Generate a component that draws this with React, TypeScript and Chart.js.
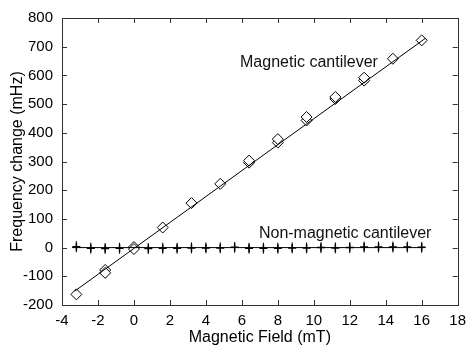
import React, { useEffect, useRef } from "react";
import { Chart, registerables } from "chart.js";
Chart.register(...registerables);

// Magnetic cantilever measurements (mT, mHz)
const magField = [-3.2, -1.6, -1.6, 0, 0, 1.6, 3.2, 4.8, 6.4, 6.4, 8.0, 8.0, 9.6, 9.6, 11.2, 11.2, 12.8, 12.8, 14.4, 16.0];
const magFreq = [-163, -78, -88, 2, -5, 70, 155, 222, 296, 303, 366, 378, 443, 455, 518, 525, 582, 592, 658, 722];

// Non-magnetic cantilever measurements
const nonMagField = [-3.2, -2.4, -1.6, -0.8, 0, 0.8, 1.6, 2.4, 3.2, 4.0, 4.8, 5.6, 6.4, 7.2, 8.0, 8.8, 9.6, 10.4, 11.2, 12.0, 12.8, 13.6, 14.4, 15.2, 16.0];
const nonMagFreq = [3, -2, -3, -2, 0, -3, -2, -2, -1, -1, -1, 1, -2, -2, -2, -1, -1, 0, -1, 0, 2, 2, 2, 2, 1];

// Linear fits (endpoints)
const magFitX = [-3.3, 16.2];
const magFitY = [-152, 729];
const nonMagFitX = [-3.45, 16.2];
const nonMagFitY = [0, 0];

// Annotations
const labelTexts = ["Magnetic cantilever", "Non-magnetic cantilever"];
const labelX = [5.9, 6.95];
const labelY = [644, 49];

const xTicks = [-4, -2, 0, 2, 4, 6, 8, 10, 12, 14, 16, 18];
const yTicks = [-200, -100, 0, 100, 200, 300, 400, 500, 600, 700, 800];

const zip = (xs: number[], ys: number[]) => xs.map((x, i) => ({ x, y: ys[i] }));

export default function App() {
  const ref = useRef<HTMLCanvasElement>(null);
  useEffect(() => {
    document.body.style.margin = "0";
    const font = "'Liberation Sans', Arial, Helvetica, sans-serif";
    const framePlugin = {
      id: "frame",
      afterDraw(chart: any) {
        const { ctx, chartArea: a, scales } = chart;
        ctx.save();
        ctx.strokeStyle = "#333";
        ctx.lineWidth = 1;
        ctx.strokeRect(Math.round(a.left) + 0.5, Math.round(a.top) + 0.5, Math.round(a.right - a.left), Math.round(a.bottom - a.top));
        const L = 5;
        ctx.beginPath();
        for (const v of xTicks) {
          const px = Math.round(scales.x.getPixelForValue(v)) + 0.5;
          ctx.moveTo(px, a.bottom); ctx.lineTo(px, a.bottom - L);
          ctx.moveTo(px, a.top); ctx.lineTo(px, a.top + L);
        }
        for (const v of yTicks) {
          const py = Math.round(scales.y.getPixelForValue(v)) + 0.5;
          ctx.moveTo(a.left, py); ctx.lineTo(a.left + L, py);
          ctx.moveTo(a.right, py); ctx.lineTo(a.right - L, py);
        }
        ctx.stroke();
        ctx.restore();
      },
    };
    const labelPlugin = {
      id: "labels",
      afterDatasetsDraw(chart: any) {
        const { ctx, scales } = chart;
        ctx.save();
        ctx.font = `16px ${font}`;
        ctx.fillStyle = "#111";
        ctx.textBaseline = "middle";
        ctx.textAlign = "left";
        labelTexts.forEach((t, i) => {
          ctx.fillText(t, scales.x.getPixelForValue(labelX[i]), scales.y.getPixelForValue(labelY[i]));
        });
        ctx.restore();
      },
    };
    const chart = new Chart(ref.current!, {
      type: "scatter",
      data: {
        datasets: [
          { data: zip(magFitX, magFitY), showLine: true, borderColor: "#000", borderWidth: 1, pointRadius: 0 },
          { data: zip(nonMagFitX, nonMagFitY), showLine: true, borderColor: "#000", borderWidth: 1, pointRadius: 0 },
          { data: zip(magField, magFreq), pointStyle: "rectRot", pointRadius: 5.5, backgroundColor: "#fff", borderColor: "#000", borderWidth: 1 },
          { data: zip(magField, magFreq), pointStyle: "line", rotation: 90, pointRadius: 4, borderColor: "#000", borderWidth: 1 },
          { data: zip(nonMagField, nonMagFreq), pointStyle: "cross", pointRadius: 4, borderColor: "#000", borderWidth: 1.5 },
          { data: zip(nonMagField, nonMagFreq), pointStyle: "line", rotation: 90, pointRadius: 5.5, borderColor: "#000", borderWidth: 1 },
        ],
      },
      options: {
        animation: false,
        responsive: true,
        maintainAspectRatio: false,
        layout: { padding: { top: 16, right: 10, left: 0, bottom: 0 } },
        plugins: { legend: { display: false }, tooltip: { enabled: false } },
        scales: {
          x: {
            type: "linear",
            min: -4,
            max: 18,
            afterBuildTicks: (s: any) => { s.ticks = xTicks.map((v) => ({ value: v })); },
            afterFit: (s: any) => { s.height = 43; },
            grid: { display: false, drawTicks: false },
            border: { display: false },
            ticks: { color: "#000", font: { family: font, size: 15 }, padding: 7, maxRotation: 0 },
            title: { display: true, text: "Magnetic Field (mT)", color: "#000", font: { family: font, size: 16 }, padding: { top: 0, bottom: 1 } },
          },
          y: {
            type: "linear",
            min: -200,
            max: 800,
            afterBuildTicks: (s: any) => { s.ticks = yTicks.map((v) => ({ value: v })); },
            afterFit: (s: any) => { s.width = 62; },
            grid: { display: false, drawTicks: false },
            border: { display: false },
            ticks: { color: "#000", font: { family: font, size: 15 }, padding: 9 },
            title: { display: true, text: "Frequency change (mHz)", color: "#000", font: { family: font, size: 16 }, padding: { top: 8, bottom: 0 } },
          },
        },
      },
      plugins: [framePlugin, labelPlugin],
    } as any);
    return () => chart.destroy();
  }, []);
  return (
    <div style={{ width: 473, height: 348, position: "relative" }}>
      <canvas ref={ref} />
    </div>
  );
}
